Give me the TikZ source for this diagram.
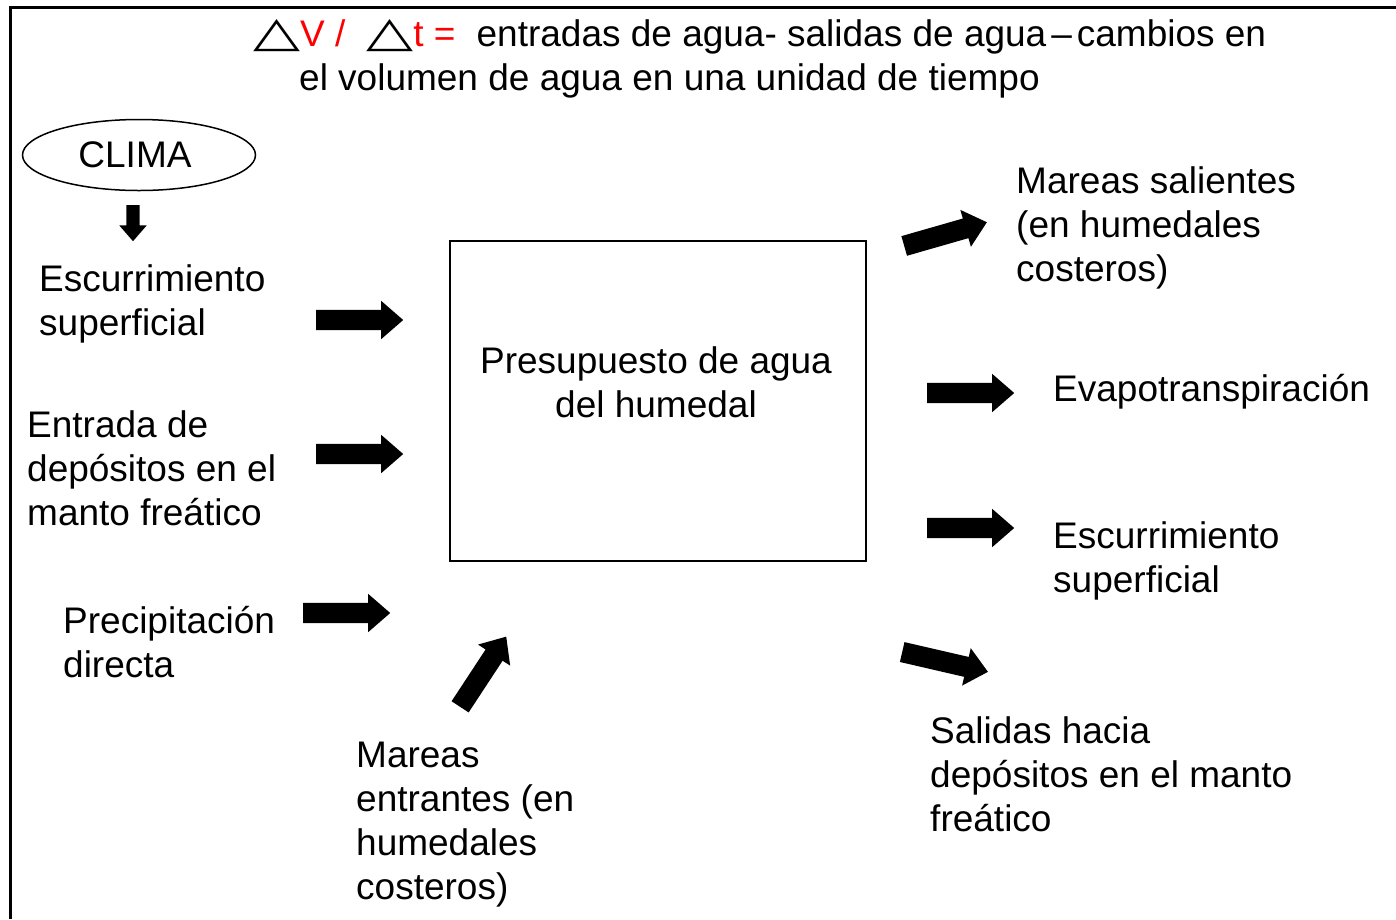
\documentclass[tikz,border=0pt]{standalone}
\usepackage{fontspec}
\setmainfont{Liberation Sans}
\newfontfamily\symbolfont{DejaVu Sans}
\usetikzlibrary{shapes,arrows}
\tikzstyle{txt} = [inner sep=0pt, align=left, anchor=base west, font=\fontsize{37}{44}\selectfont]
\tikzstyle{fatarrow} = [single arrow, fill=black, inner xsep=0pt, inner ysep=10pt, anchor=tail,
minimum height=87pt, single arrow head extend=9pt, single arrow tip angle=82]
\tikzstyle{smallarrow} = [fatarrow, minimum height=36pt, inner ysep=6.5pt, single arrow head extend=7pt]
\tikzstyle{budgetbox} = [rectangle, draw, line width=2pt, minimum width=416pt, minimum height=320pt]
\tikzstyle{climabox} = [ellipse, draw, line width=1.5pt, minimum width=233pt, minimum height=71pt,
inner sep=0pt, font=\fontsize{37}{44}\selectfont]
\newcommand{\deltasym}{\resizebox{47pt}{27pt}{\symbolfont △}}

\begin{document}
\begin{tikzpicture}[x=1pt, y=-1pt, node distance = 1cm, auto]
	\useasboundingbox (0,0) rectangle (1396,919);
	\draw[line width=3pt] (1396,7) -- (10,7) -- (10,919);
	% Place nodes (base west = baseline of the last line)
	\node (balance) [txt] at (253,90) {\deltasym{\color{red}V /}\hspace{21pt}\deltasym{\color{red}t =}\hspace{21pt}entradas de agua- salidas de agua\hspace{5pt}–\hspace{5pt}cambios en\\\hspace*{46pt}el volumen de agua en una unidad de tiempo};
	\node (clima) [climabox] at (139,155) {\hspace*{-8pt}CLIMA};
	\node (escin) [txt] at (39,335) {Escurrimiento\\superficial};
	\node (depin) [txt] at (27,525) {Entrada de\\depósitos en el\\manto freático};
	\node (precip) [txt] at (63,677) {Precipitación\\directa};
	\node (mareasin) [txt] at (356,899) {Mareas\\entrantes (en\\humedales\\costeros)};
	\node (budget) [budgetbox] at (658,401) {};
	\node (budgettext) [txt, align=center, anchor=center] at (656,382) {Presupuesto de agua\\del humedal};
	\node (mareasout) [txt] at (1016,281) {Mareas salientes\\(en humedales\\costeros)};
	\node (evapo) [txt] at (1053,401) {Evapotranspiración};
	\node (escout) [txt] at (1053,592) {Escurrimiento\\superficial};
	\node (depout) [txt] at (930,831) {Salidas hacia\\depósitos en el manto\\freático};
	
	% Block arrows
	\node (climaarrow) [smallarrow, rotate=-90] at (133,205) {};
	\node (escinarrow) [fatarrow] at (316,320) {};
	\node (depinarrow) [fatarrow] at (316,454) {};
	\node (precarrow) [fatarrow] at (303,613) {};
	\node (mareasinarrow) [fatarrow, rotate=56.7, minimum height=84pt] at (460,707) {};
	\node (mareasoutarrow) [fatarrow, rotate=16, minimum height=86pt] at (904,246) {};
	\node (evapoarrow) [fatarrow] at (927,393) {};
	\node (escoutarrow) [fatarrow] at (927,528) {};
	\node (depoutarrow) [fatarrow, rotate=-13, minimum height=88pt] at (902,652) {};
\end{tikzpicture}
\end{document}
